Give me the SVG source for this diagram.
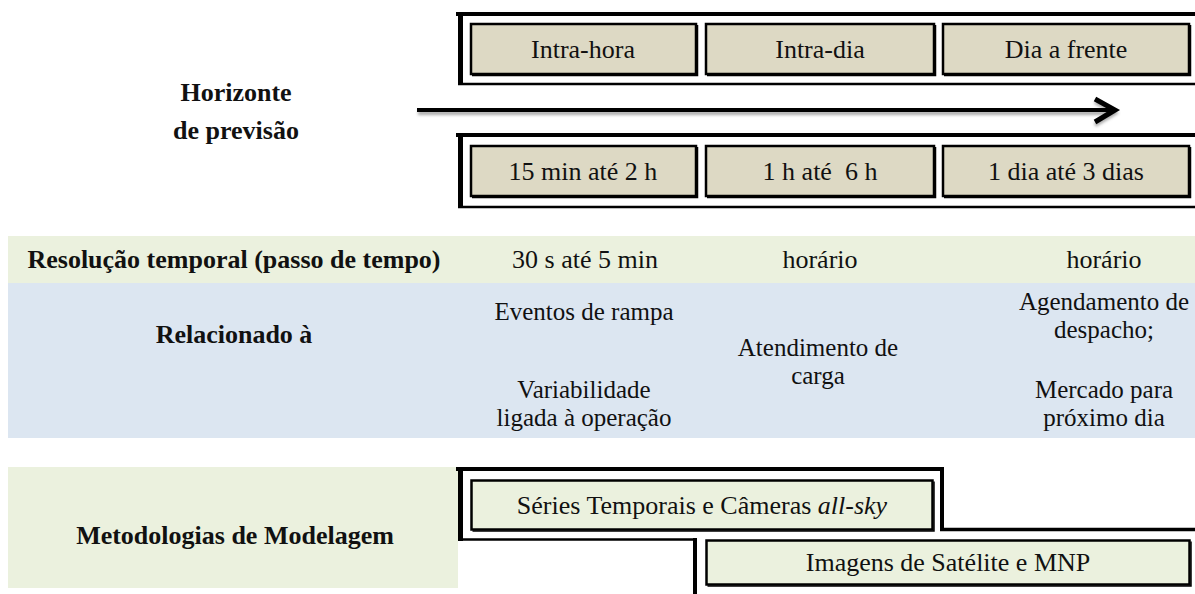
<svg xmlns="http://www.w3.org/2000/svg" width="1195" height="594" viewBox="0 0 1195 594">
<style>
.t{font-family:"Liberation Serif","Times New Roman",serif;font-size:26px;fill:#111;text-anchor:middle}
.s{font-size:25px}
.b{font-weight:bold}
.tan{fill:#DDD9C4;stroke:#000;stroke-width:2.5}
.grn{fill:#EBF1DE;stroke:#000;stroke-width:2.5}
.shd{fill:none;stroke:#000;stroke-width:1.5}
.fr{stroke:#000;fill:none}
</style>
<defs>
<filter id="sh" x="-5%" y="-100%" width="110%" height="300%"><feGaussianBlur stdDeviation="1.6"/></filter>
</defs>
<rect width="1195" height="594" fill="#fff"/>

<rect id="band-res" x="8" y="236" width="1187" height="47" fill="#EBF1DE"/>
<rect id="band-rel" x="8" y="283" width="1187" height="155" fill="#DCE6F1"/>
<rect id="band-met" x="8" y="467" width="450" height="121" fill="#EBF1DE"/>

<g id="label-horizonte">
<text class="t b" x="236" y="101">Horizonte</text>
<text class="t b" x="236" y="139">de previsão</text>
</g>

<g id="frame-top" class="fr">
<line x1="456" y1="14" x2="1195" y2="14" stroke-width="4"/>
<line x1="460.5" y1="12" x2="460.5" y2="85" stroke-width="5"/>
<line x1="458" y1="84" x2="1195" y2="84" stroke-width="2.5"/>
</g>
<g id="box-intrahora"><rect class="tan" x="471" y="24" width="225" height="50"/><polyline class="shd" points="697.5,25 697.5,75.5 472,75.5"/><text class="t" x="583" y="58">Intra-hora</text></g>
<g id="box-intradia"><rect class="tan" x="706" y="24" width="228" height="50"/><polyline class="shd" points="935.5,25 935.5,75.5 707,75.5"/><text class="t" x="820" y="58">Intra-dia</text></g>
<g id="box-diafrente"><rect class="tan" x="943" y="24" width="246" height="50"/><polyline class="shd" points="1190.5,25 1190.5,75.5 944,75.5"/><text class="t" x="1066" y="58">Dia a frente</text></g>

<g id="frame-bottom" class="fr">
<line x1="456" y1="135" x2="1195" y2="135" stroke-width="4"/>
<line x1="460.5" y1="133" x2="460.5" y2="208" stroke-width="5"/>
<line x1="458" y1="207" x2="1195" y2="207" stroke-width="2.5"/>
</g>
<g id="box-15min"><rect class="tan" x="471" y="146" width="225" height="50"/><polyline class="shd" points="697.5,147 697.5,197.5 472,197.5"/><text class="t" x="583" y="180">15 min até 2 h</text></g>
<g id="box-1h"><rect class="tan" x="706" y="146" width="228" height="50"/><polyline class="shd" points="935.5,147 935.5,197.5 707,197.5"/><text class="t" x="820" y="180" style="white-space:pre" xml:space="preserve">1 h até  6 h</text></g>
<g id="box-1dia"><rect class="tan" x="943" y="146" width="246" height="50"/><polyline class="shd" points="1190.5,147 1190.5,197.5 944,197.5"/><text class="t" x="1066" y="180">1 dia até 3 dias</text></g>

<g id="connectors">
<g filter="url(#sh)" opacity="0.5" stroke="#555" fill="none" stroke-width="4">
<line x1="418" y1="113" x2="1112" y2="113"/>
<polyline points="1095,102 1115,113 1095,125"/>
</g>
<line x1="417" y1="110" x2="1113" y2="110" stroke="#000" stroke-width="4"/>
<polyline points="1095,99 1115,110 1095,122" fill="none" stroke="#000" stroke-width="5" stroke-linejoin="miter"/>
</g>

<g id="row-resolucao">
<text class="t b" x="234" y="268">Resolução temporal (passo de tempo)</text>
<text class="t" x="585" y="268">30 s até 5 min</text>
<text class="t" x="820" y="268">horário</text>
<text class="t" x="1104" y="268">horário</text>
</g>

<g id="row-relacionado">
<text class="t b" x="234" y="343">Relacionado à</text>
<text class="t s" x="584" y="320">Eventos de rampa</text>
<text class="t s" x="584" y="398">Variabilidade</text>
<text class="t s" x="584" y="426">ligada à operação</text>
<text class="t s" x="818" y="356">Atendimento de</text>
<text class="t s" x="818" y="384">carga</text>
<text class="t s" x="1104" y="310">Agendamento de</text>
<text class="t s" x="1104" y="338">despacho;</text>
<text class="t s" x="1104" y="398">Mercado para</text>
<text class="t s" x="1104" y="426">próximo dia</text>
</g>

<g id="label-metodologias"><text class="t b" x="235" y="544">Metodologias de Modelagem</text></g>

<g id="frame-imagens" class="fr">
<line x1="695" y1="538" x2="695" y2="594" stroke-width="4"/>
<line x1="940" y1="529.5" x2="1195" y2="529.5" stroke-width="3.5"/>
</g>
<g id="box-imagens"><rect class="grn" x="706.5" y="540.5" width="483" height="44"/><polyline class="shd" points="1191,541.5 1191,586 707.5,586"/><text class="t" x="948" y="571">Imagens de Satélite e MNP</text></g>

<g id="frame-series" class="fr">
<line x1="456" y1="469" x2="944" y2="469" stroke-width="4"/>
<line x1="460.5" y1="467" x2="460.5" y2="541" stroke-width="5"/>
<line x1="942" y1="467" x2="942" y2="531" stroke-width="4"/>
<line x1="458" y1="539.5" x2="697" y2="539.5" stroke-width="2.5"/>
</g>
<g id="box-series"><rect class="grn" x="471.5" y="480.5" width="461" height="49"/><polyline class="shd" points="934,481.5 934,531 472.5,531"/><text class="t" x="702" y="514">Séries Temporais e Câmeras <tspan font-style="italic">all-sky</tspan></text></g>
</svg>
